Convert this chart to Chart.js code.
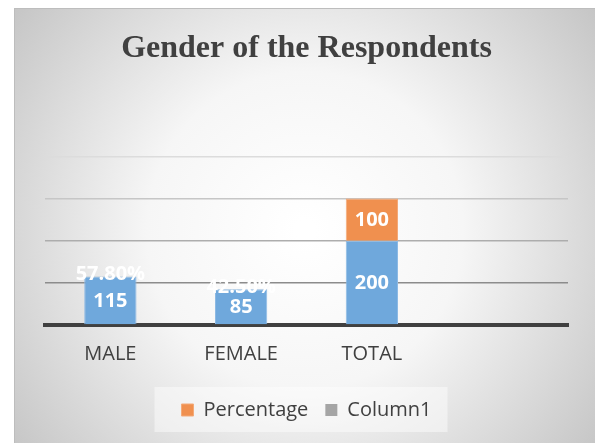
<!DOCTYPE html>
<html>
<head>
<meta charset="utf-8">
<script src="https://cdn.jsdelivr.net/npm/chart.js@4/dist/chart.umd.min.js"></script>
<style>
  html, body { margin: 0; padding: 0; background: #fff; }
  #wrap { width: 595px; height: 443px; }
</style>
</head>
<body>
<div id="wrap"><canvas id="gender-chart"></canvas></div>
<script>
// Data
const categories = ["MALE", "FEMALE", "TOTAL", ""];
const numberValues = [115, 85, 200, null];
const percentageValues = [0.578, 0.425, 100, null];
const column1Values = [null, null, null, null];
const yTicks = [0, 100, 200, 300, 400];

const gridColors = ["#404040", "#8c8c8c", "#adadad", "#c6c6c6", "#dcdcdc"];

// Excel style: fractions shown as percent, whole numbers as is
function formatLabel(v) {
  return v < 1 ? (v * 100).toFixed(2) + "%" : String(v);
}

// Grey radial background box behind the whole chart
const backgroundBox = {
  id: "backgroundBox",
  beforeDraw(chart) {
    const ctx = chart.ctx;
    ctx.save();
    ctx.fillStyle = "#fff";
    ctx.fillRect(0, 0, chart.width, chart.height);
    const g = ctx.createRadialGradient(305, 230, 10, 305, 230, 380);
    g.addColorStop(0, "#ffffff");
    g.addColorStop(0.4, "#f6f6f6");
    g.addColorStop(1, "#c2c2c2");
    ctx.fillStyle = g;
    ctx.fillRect(14, 8, chart.width - 14, chart.height - 8);
    ctx.fillStyle = "#bdbdbd";
    ctx.fillRect(14, 8, chart.width - 14, 1);
    ctx.fillRect(14, 8, 1, chart.height - 8);
    // light panel behind the legend
    const boxes = chart.legend.legendHitBoxes;
    if (boxes && boxes.length) {
      const left = boxes[0].left - 27;
      const right = boxes[boxes.length - 1].left + boxes[boxes.length - 1].width + 16;
      const mid = boxes[0].top + boxes[0].height / 2;
      ctx.fillStyle = "rgba(255,255,255,0.45)";
      ctx.fillRect(left, mid - 23, right - left, 45);
    }
    ctx.restore();
  },
};

// White bold labels centred in each bar segment
const barLabels = {
  id: "barLabels",
  afterDatasetsDraw(chart) {
    const ctx = chart.ctx;
    ctx.save();
    ctx.font = "bold 20px 'Open Sans'";
    ctx.fillStyle = "#ffffff";
    ctx.textAlign = "center";
    ctx.textBaseline = "middle";
    [0, 1].forEach((di) => {
      const meta = chart.getDatasetMeta(di);
      const values = chart.data.datasets[di].data;
      meta.data.forEach((bar, i) => {
        if (values[i] == null) return;
        const cy = (bar.y + bar.base) / 2;
        ctx.fillText(formatLabel(values[i]), bar.x, di === 1 && values[i] < 1 ? cy - 2 : cy + 1);
      });
    });
    ctx.restore();
  },
};

new Chart(document.getElementById("gender-chart"), {
  type: "bar",
  data: {
    labels: categories,
    datasets: [
      {
        label: "Number",
        data: numberValues,
        backgroundColor: "#6fa8dc",
        borderColor: "#8dbae4",
        borderWidth: 1,
      },
      {
        label: "Percentage",
        data: percentageValues,
        backgroundColor: "#f0904f",
        borderColor: "#f3a978",
        borderWidth: 1,
      },
      {
        label: "Column1",
        data: column1Values,
        backgroundColor: "#a5a5a5",
      },
    ],
  },
  options: {
    responsive: true,
    maintainAspectRatio: false,
    animation: false,
    categoryPercentage: 1,
    barPercentage: 0.4,
    layout: { padding: { left: 45, right: 27, top: 0, bottom: 13 } },
    plugins: {
      title: {
        display: true,
        text: "Gender of the Respondents",
        color: "#404040",
        font: { family: "'Liberation Serif'", size: 32, weight: "bold" },
        padding: { top: 30, bottom: 88 },
      },
      legend: {
        position: "bottom",
        labels: {
          filter: (item) => item.text !== "Number",
          color: "#404040",
          font: { family: "'Open Sans'", size: 20 },
          boxWidth: 12,
          boxHeight: 12,
          padding: 17,
        },
      },
      tooltip: { enabled: false },
    },
    scales: {
      x: {
        stacked: true,
        grid: { display: false, drawTicks: false },
        border: { display: true, color: "#404040", width: 4 },
        ticks: {
          color: "#404040",
          font: { family: "'Open Sans'", size: 20 },
          padding: 17,
        },
      },
      y: {
        stacked: true,
        min: yTicks[0],
        max: yTicks[yTicks.length - 1],
        afterBuildTicks: (scale) => {
          scale.ticks = yTicks.map((v) => ({ value: v }));
        },
        grid: {
          drawTicks: false,
          color: (c) => gridColors[c.index] || "#ccc",
          lineWidth: 1.5,
        },
        border: { display: false },
        ticks: { display: false },
      },
    },
  },
  plugins: [backgroundBox, barLabels],
});
</script>
</body>
</html>
